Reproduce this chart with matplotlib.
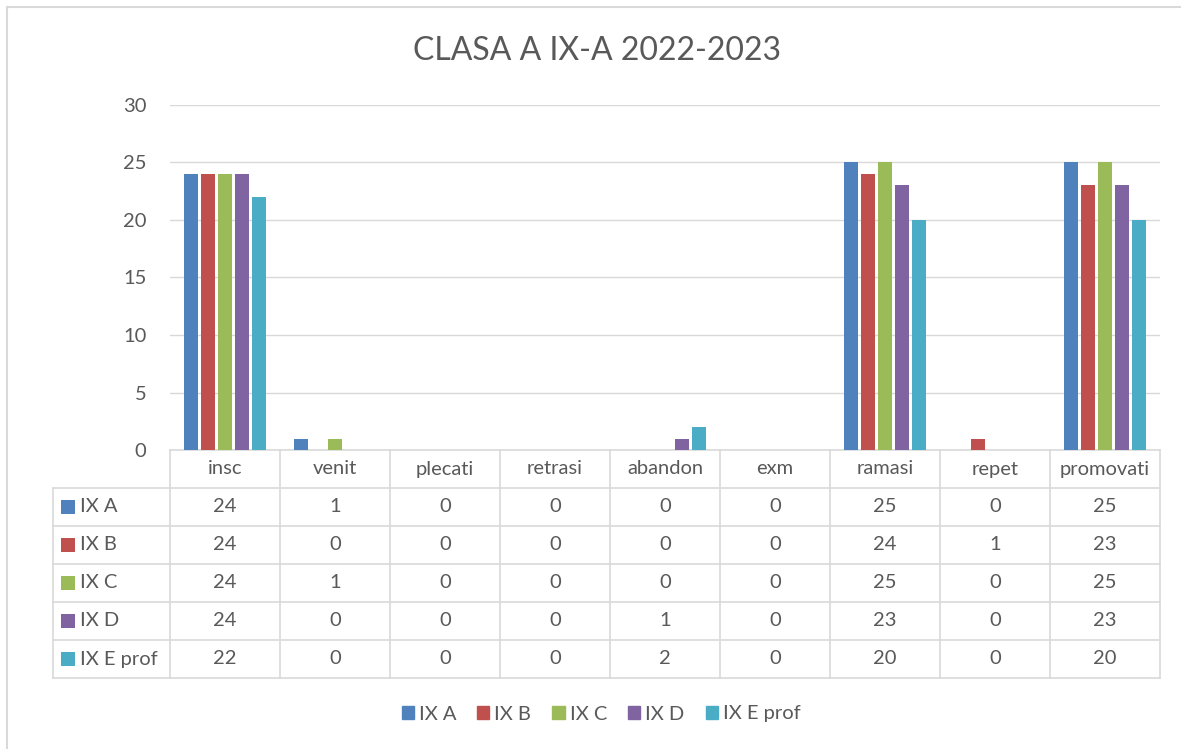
import numpy as np
import matplotlib.pyplot as plt
from matplotlib.patches import Rectangle
from matplotlib.lines import Line2D
from matplotlib.transforms import blended_transform_factory

plt.rcParams['font.family'] = ['Lato', 'DejaVu Sans']

categories = ['insc', 'venit', 'plecati', 'retrasi', 'abandon', 'exm', 'ramasi', 'repet', 'promovati']
series = ['IX A', 'IX B', 'IX C', 'IX D', 'IX E prof']
ix_a = [24, 1, 0, 0, 0, 0, 25, 0, 25]
ix_b = [24, 0, 0, 0, 0, 0, 24, 1, 23]
ix_c = [24, 1, 0, 0, 0, 0, 25, 0, 25]
ix_d = [24, 0, 0, 0, 1, 0, 23, 0, 23]
ix_e = [22, 0, 0, 0, 2, 0, 20, 0, 20]
values = [ix_a, ix_b, ix_c, ix_d, ix_e]
colors = ['#4f81bd', '#c0504d', '#9bbb59', '#8064a2', '#4bacc6']

txt = '#595959'
grid = '#d9d9d9'
fs = 14.5

W, H = 1181, 749
fig = plt.figure(figsize=(W / 100, H / 100), dpi=100)
ax = fig.add_axes([170 / W, 1 - 450 / H, 990 / W, 345 / H])

x = np.arange(len(categories))
step = 17 / 110
width = 13.5 / 110
for i, (name, vals, c) in enumerate(zip(series, values, colors)):
    ax.bar(x + (i - 2) * step, vals, width=width, color=c, linewidth=0, label=name, zorder=3)

ax.set_xlim(-0.5, len(categories) - 0.5)
ax.set_ylim(0, 30)
ax.set_yticks(range(0, 31, 5))
ax.yaxis.grid(True, color=grid, linewidth=1)
ax.set_axisbelow(True)
ax.set_xticks([])
ax.tick_params(axis='y', length=0, pad=17, labelsize=fs, labelcolor=txt)
for s in ax.spines.values():
    s.set_visible(False)

fig.text(597 / W, 1 - 51 / H, 'CLASA A IX-A 2022-2023', ha='center', va='center',
         fontsize=23, color=txt)

# data table under the axis
tr = blended_transform_factory(ax.transData, ax.transAxes)
rh = 38 / 345
lab_left = -0.5 - 117 / 110
n = len(categories)

def hline(x0, x1, y):
    ax.add_line(Line2D([x0, x1], [y, y], transform=tr, color=grid, lw=1.2, clip_on=False))

def vline(xv, y0, y1):
    ax.add_line(Line2D([xv, xv], [y0, y1], transform=tr, color=grid, lw=1.2, clip_on=False))

hline(-0.5, n - 0.5, 0)
for r in range(1, len(series) + 2):
    hline(lab_left, n - 0.5, -r * rh)
for k in range(n + 1):
    vline(k - 0.5, 0, -(len(series) + 1) * rh)
vline(lab_left, -rh, -(len(series) + 1) * rh)

for k, cat in enumerate(categories):
    ax.text(k, -0.5 * rh, cat, transform=tr, ha='center', va='center', fontsize=fs, color=txt)

sq_w = 14 / 110
for r, (name, vals, c) in enumerate(zip(series, values, colors)):
    yc = -(r + 1.5) * rh
    ax.add_patch(Rectangle((lab_left + 8 / 110, yc - 0.5 * 14 / 345), sq_w, 14 / 345,
                           transform=tr, color=c, clip_on=False, linewidth=0))
    ax.text(lab_left + 27 / 110, yc, name, transform=tr, ha='left', va='center',
            fontsize=fs, color=txt)
    for k, v in enumerate(vals):
        ax.text(k, yc, str(v), transform=tr, ha='center', va='center', fontsize=fs, color=txt)

# legend
handles = [Rectangle((0, 0), 1, 1, color=c) for c in colors]
fig.legend(handles, series, loc='center', bbox_to_anchor=(601 / W, 1 - 714 / H), ncol=5,
           frameon=False, fontsize=fs, labelcolor=txt, handlelength=0.6, handleheight=0.6,
           handletextpad=0.25, columnspacing=1.05)

# outer chart border
fig.add_artist(Rectangle((7 / W, -0.05), 1.2, 1.05 - 7 / H, transform=fig.transFigure,
                         fill=False, edgecolor=grid, lw=1.5))

fig.savefig('out.png', dpi=100, facecolor='white')
